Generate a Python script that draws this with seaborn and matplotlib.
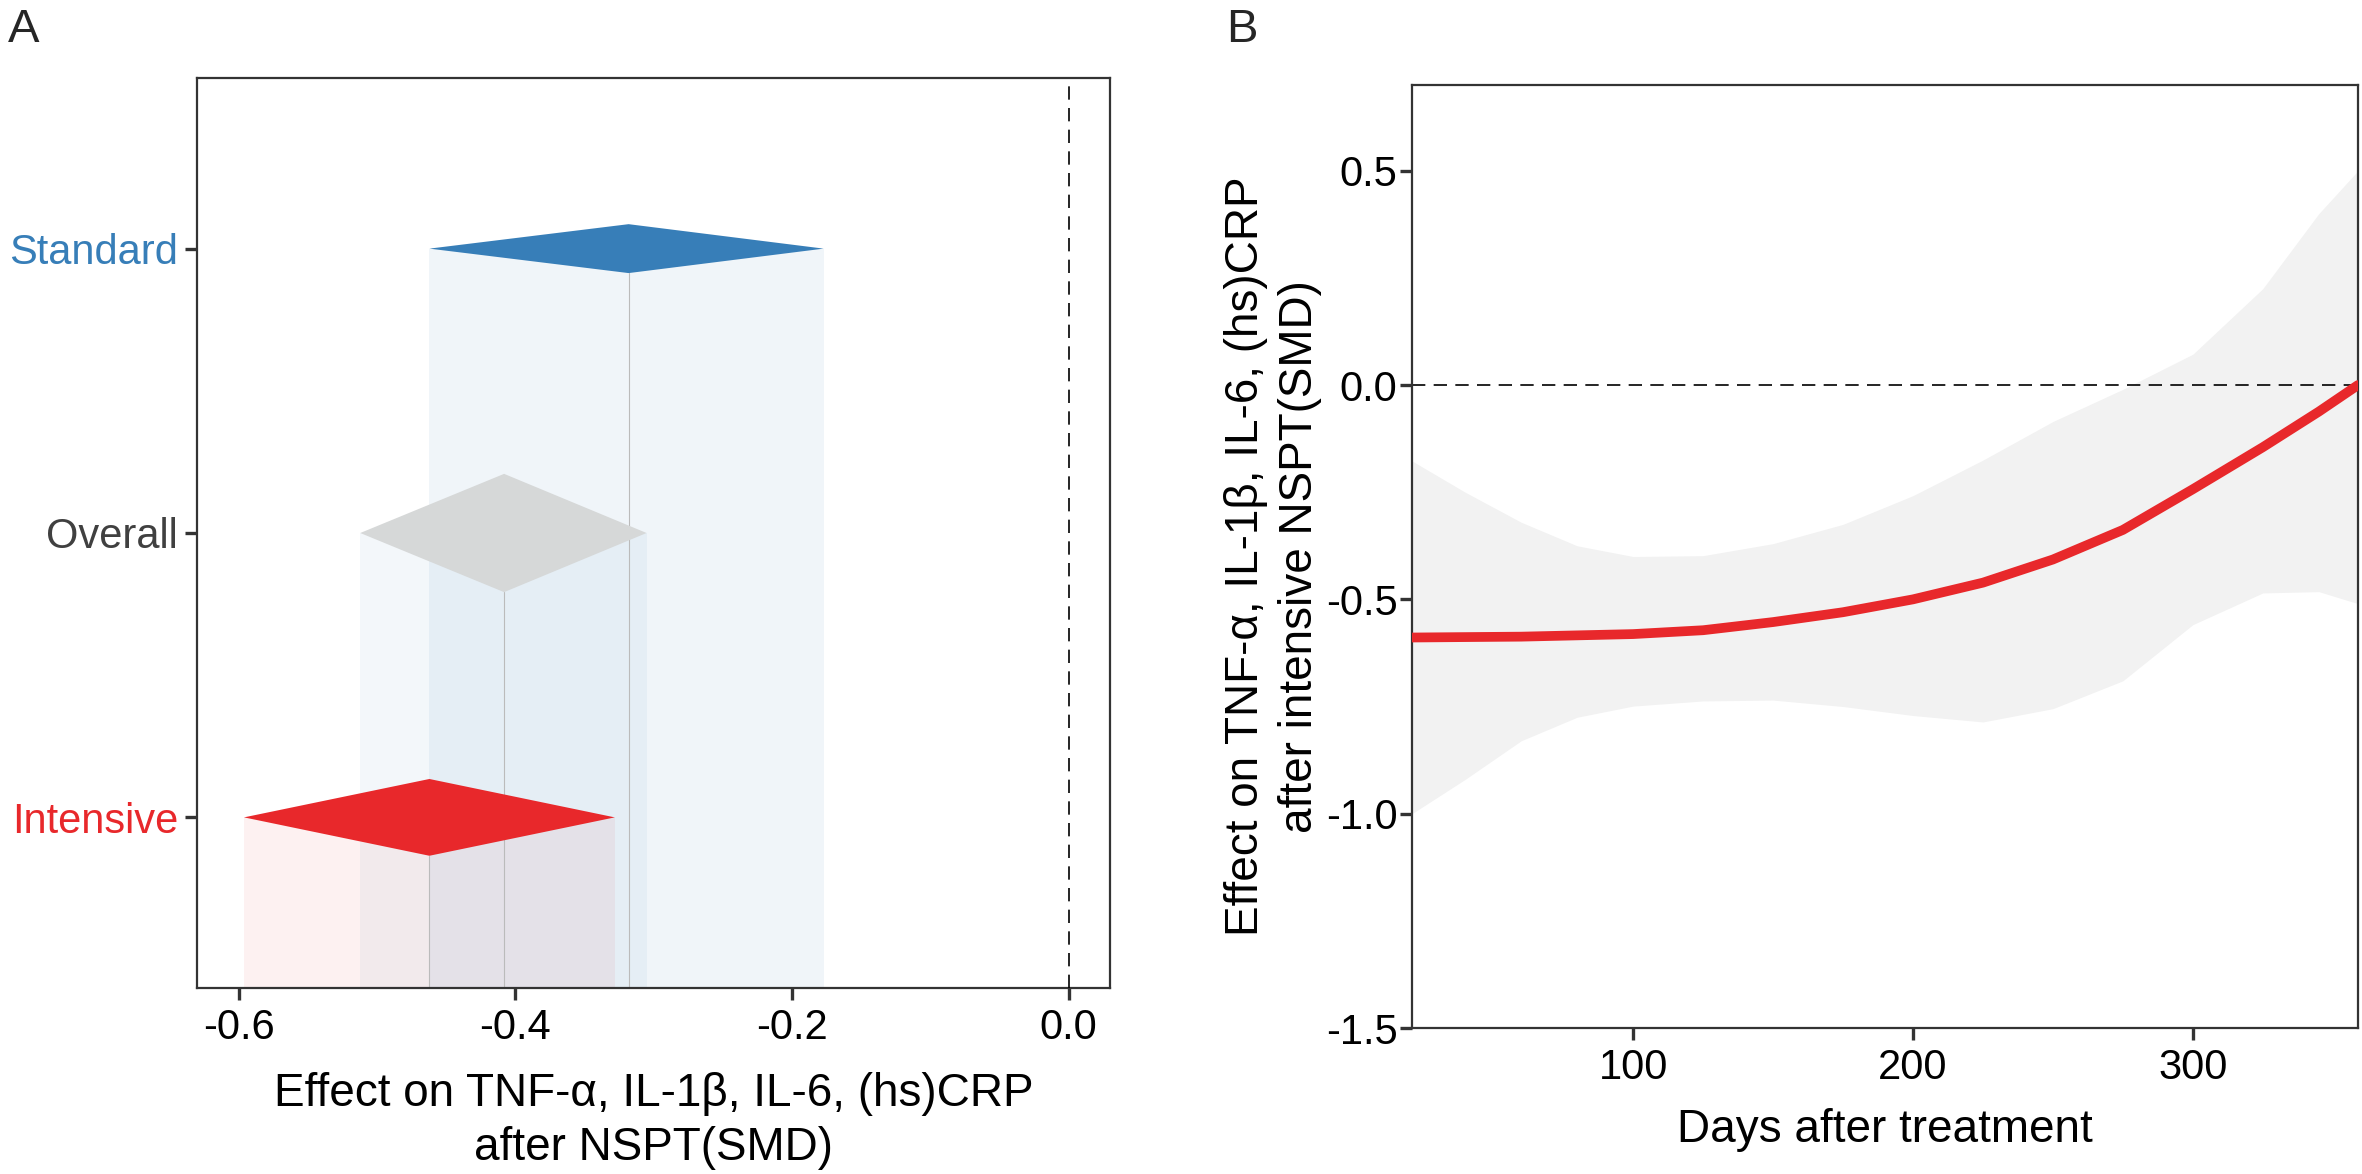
import numpy as np
import pandas as pd
import matplotlib
matplotlib.use("Agg")
import matplotlib.pyplot as plt
import seaborn as sns
from matplotlib.patches import Polygon

# ---------------- data ----------------
groups = ["Standard", "Overall", "Intensive"]
smd_est = [-0.318, -0.408, -0.462]
smd_lo = [-0.462, -0.512, -0.596]
smd_hi = [-0.177, -0.305, -0.328]

a_xticks = [-0.6, -0.4, -0.2, 0.0]
a_xticklabels = ["-0.6", "-0.4", "-0.2", "0.0"]

days = [21, 40, 60, 80, 100, 125, 150, 175, 200, 225, 250, 275, 300, 325, 345, 359]
effect = [-0.589, -0.588, -0.587, -0.584, -0.581, -0.572, -0.553, -0.530, -0.500,
          -0.461, -0.407, -0.338, -0.243, -0.145, -0.062, 0.0]
ci_lower = [-1.0, -0.92, -0.83, -0.775, -0.749, -0.737, -0.735, -0.75, -0.771,
            -0.786, -0.755, -0.69, -0.559, -0.485, -0.482, -0.51]
ci_upper = [-0.177, -0.25, -0.32, -0.375, -0.40, -0.398, -0.37, -0.325, -0.258,
            -0.175, -0.085, -0.01, 0.072, 0.225, 0.40, 0.50]

b_xticks = [100, 200, 300]
b_xticklabels = ["100", "200", "300"]
b_yticks = [0.5, 0.0, -0.5, -1.0, -1.5]
b_yticklabels = ["0.5", "0.0", "-0.5", "-1.0", "-1.5"]

# ---------------- style ----------------
BLUE = "#377EB8"
RED = "#E8282B"
GREY_D = "#D6D8D8"
diamond_colors = [BLUE, GREY_D, RED]
label_colors = [BLUE, "#404040", RED]
rect_colors = [BLUE, BLUE, "#E41A1C"]
rect_alpha = [0.07, 0.06, 0.06]
diamond_half = [0.086, 0.208, 0.135]
AXC = "#333333"

sns.set_theme(style="ticks")
plt.rcParams["font.family"] = ["Liberation Sans", "DejaVu Sans"]
plt.rcParams["axes.unicode_minus"] = False

FS = 30      # tick labels
FT = 33      # axis titles
W, H = 2362, 1174
fig = plt.figure(figsize=(W / 100, H / 100), dpi=100)


def px_axes(l, t, r, b):
    return fig.add_axes([l / W, 1 - b / H, (r - l) / W, (b - t) / H])


axA = px_axes(197, 78, 1110, 988)
axB = px_axes(1412, 85, 2358, 1028)

# ---------------- panel A ----------------
n = len(groups)
ypos = [n - i for i in range(n)]
ybot = 0.4
for i in range(n):
    axA.fill_between([smd_lo[i], smd_hi[i]], [ybot, ybot], [ypos[i], ypos[i]],
                     color=rect_colors[i], alpha=rect_alpha[i], lw=0, zorder=1)
for i in range(n):
    axA.plot([smd_est[i], smd_est[i]], [ybot, ypos[i] - diamond_half[i]],
             color="#BBBBBB", lw=0.8, zorder=2)
for i in range(n):
    poly = Polygon([(smd_lo[i], ypos[i]), (smd_est[i], ypos[i] + diamond_half[i]),
                    (smd_hi[i], ypos[i]), (smd_est[i], ypos[i] - diamond_half[i])],
                   closed=True, facecolor=diamond_colors[i], edgecolor="none", zorder=3 + i)
    axA.add_patch(poly)
axA.axvline(0.0, color="black", lw=1.2, ls=(0, (8, 5)), zorder=6)
axA.set_xlim(-0.63, 0.03)
axA.set_ylim(0.4, 3.6)
axA.set_yticks(ypos)
axA.set_yticklabels(groups)
for lbl, c in zip(axA.get_yticklabels(), label_colors):
    lbl.set_color(c)
axA.set_xticks(a_xticks)
axA.set_xticklabels(a_xticklabels)
axA.set_xlabel("Effect on TNF-α, IL-1β, IL-6, (hs)CRP\nafter NSPT(SMD)",
               fontsize=FT, color="black", linespacing=1.3)
axA.xaxis.set_label_coords(0.5, (988 - 1121) / 910)
axA.xaxis.label.set_va("center")

# ---------------- panel B ----------------
axB.fill_between(days, ci_lower, ci_upper, color="#F2F2F2", lw=0, zorder=1)
axB.axhline(0.0, color="black", lw=1.2, ls=(0, (8, 5)), zorder=2)
sns.lineplot(x=days, y=effect, ax=axB, color=RED, lw=7, sort=False,
             estimator=None, zorder=3)
axB.set_xlim(min(days), max(days))
axB.set_ylim(-1.5, 0.7)
axB.set_xticks(b_xticks)
axB.set_xticklabels(b_xticklabels)
axB.set_yticks(b_yticks)
axB.set_yticklabels(b_yticklabels)
axB.set_xlabel("Days after treatment", fontsize=FT, color="black")
axB.xaxis.set_label_coords(0.5, (1028 - 1130) / 943)
axB.xaxis.label.set_va("center")
axB.set_ylabel("Effect on TNF-α, IL-1β, IL-6, (hs)CRP\nafter intensive NSPT(SMD)",
               fontsize=FT, color="black", linespacing=1.3)
axB.yaxis.set_label_coords((1273 - 1412) / 946, 0.5)
axB.yaxis.label.set_va("center")

for ax in (axA, axB):
    for s in ax.spines.values():
        s.set_visible(True)
        s.set_color(AXC)
        s.set_linewidth(1.6)
    ax.tick_params(axis="both", which="major", direction="out", length=8.5, width=2.4,
                   color=AXC, labelsize=FS)
    ax.tick_params(axis="x", labelcolor="black", pad=6)
    ax.set_facecolor("white")
axA.tick_params(axis="y", pad=5)
axB.tick_params(axis="y", labelcolor="black", pad=2)

fig.text(8 / W, 1 - 8 / H, "A", fontsize=34, va="top", ha="left")
fig.text(1226 / W, 1 - 8 / H, "B", fontsize=34, va="top", ha="left")

fig.savefig("out.png", dpi=100, facecolor="white")
